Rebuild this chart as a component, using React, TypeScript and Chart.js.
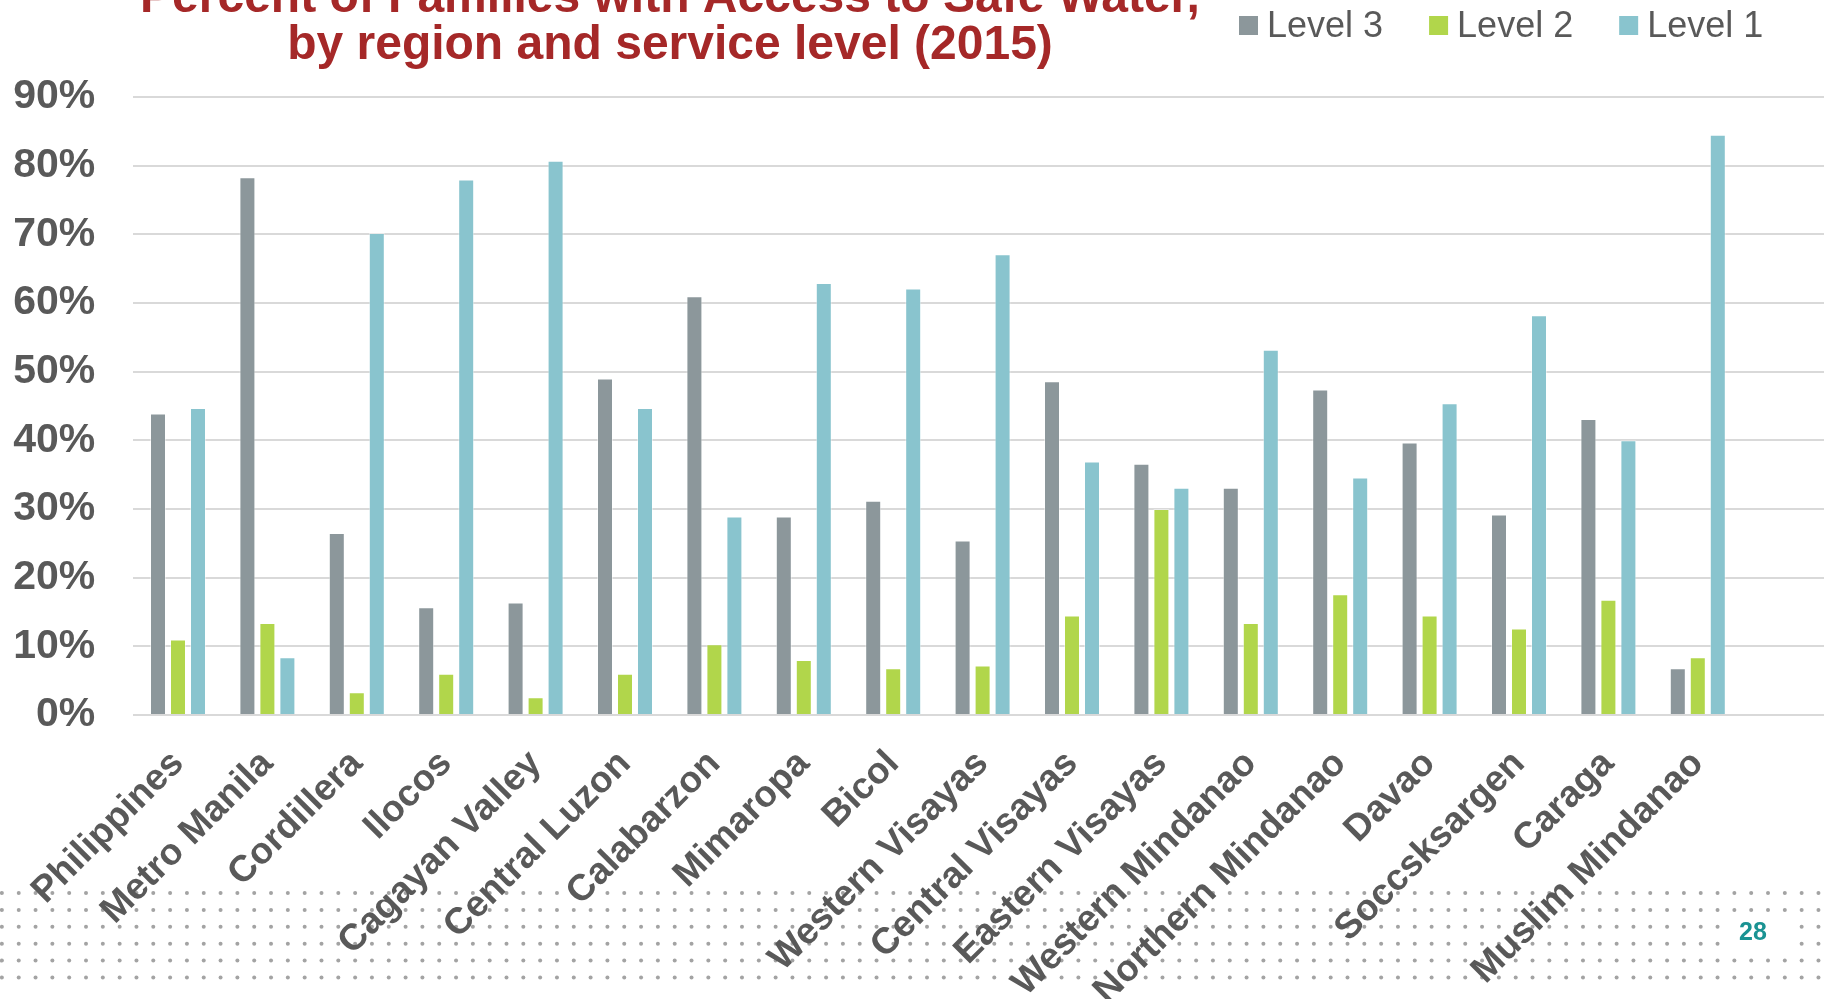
import React, { useEffect, useRef } from "react";
import { Chart, registerables } from "chart.js";

Chart.register(...registerables);

const FONT = "'Liberation Sans', Arial, Helvetica, sans-serif";

const regions = [
  "Philippines",
  "Metro Manila",
  "Cordillera",
  "Ilocos",
  "Cagayan Valley",
  "Central Luzon",
  "Calabarzon",
  "Mimaropa",
  "Bicol",
  "Western Visayas",
  "Central Visayas",
  "Eastern Visayas",
  "Western Mindanao",
  "Northern Mindanao",
  "Davao",
  "Soccsksargen",
  "Caraga",
  "Muslim Mindanao",
];

const level3 = [43.9, 78.3, 26.5, 15.7, 16.4, 49.0, 61.0, 28.9, 31.2, 25.4, 48.6, 36.6, 33.1, 47.4, 39.7, 29.2, 43.1, 6.8];
const level2 = [11.0, 13.4, 3.3, 6.0, 2.6, 6.0, 10.3, 8.0, 6.8, 7.2, 14.5, 30.0, 13.4, 17.6, 14.5, 12.6, 16.8, 8.4];
const level1 = [44.7, 8.4, 70.2, 78.0, 80.7, 44.7, 28.9, 62.9, 62.1, 67.1, 36.9, 33.1, 53.2, 34.6, 45.4, 58.2, 40.0, 84.5];

const seriesNames = ["Level 3", "Level 2", "Level 1"];
const seriesColors = ["#8C979B", "#B1D64B", "#89C4CE"];

const yMin = 0;
const yMax = 90;
const yStep = 10;

const titleLines = ["Percent of Families with Access to Safe Water,", "by region and service level (2015)"];
const pageNumber = "28";

const W = 1824;
const H = 999;

const decorPlugin = {
  id: "decor",
  beforeDraw(chart: any) {
    const ctx = chart.ctx;
    ctx.save();
    ctx.fillStyle = "#ffffff";
    ctx.fillRect(0, 0, W, H);
    // dotted band at the bottom
    ctx.fillStyle = "#a3a3a3";
    for (let r = 0; r < 6; r++) {
      const cy = 893 + r * 16.9;
      for (let cx = 1.9; cx < W + 3; cx += 16.82) {
        ctx.beginPath();
        ctx.arc(cx, cy, 2, 0, Math.PI * 2);
        ctx.fill();
      }
    }
    // page number box
    ctx.fillStyle = "#ffffff";
    ctx.fillRect(1726, 919, 68, 34);
    ctx.fillStyle = "#1A9393";
    ctx.font = `bold 25px ${FONT}`;
    ctx.textAlign = "center";
    ctx.textBaseline = "middle";
    ctx.fillText(pageNumber, 1753, 933);
    ctx.restore();
  },
  afterDraw(chart: any) {
    const ctx = chart.ctx;
    const area = chart.chartArea;
    const y = chart.scales.y;
    ctx.save();
    // extend horizontal gridlines to the right edge
    ctx.strokeStyle = "#d9d9d9";
    ctx.lineWidth = 2;
    y.ticks.forEach((_t: any, i: number) => {
      const py = Math.round(y.getPixelForTick(i));
      ctx.beginPath();
      ctx.moveTo(area.right - 1, py);
      ctx.lineTo(W, py);
      ctx.stroke();
    });
    // title
    ctx.fillStyle = "#A52828";
    ctx.font = `bold 48px ${FONT}`;
    ctx.textAlign = "center";
    ctx.textBaseline = "alphabetic";
    ctx.fillText(titleLines[0], 670, 12);
    ctx.fillText(titleLines[1], 670, 59);
    // legend
    ctx.font = `36px ${FONT}`;
    ctx.textAlign = "left";
    ctx.textBaseline = "middle";
    let x = 1239;
    chart.data.datasets.forEach((ds: any) => {
      ctx.fillStyle = ds.backgroundColor;
      ctx.fillRect(x, 16, 19, 19);
      ctx.fillStyle = "#595959";
      ctx.fillText(ds.label, x + 28, 27);
      x += 28 + ctx.measureText(ds.label).width + 46;
    });
    ctx.restore();
  },
};

export default function App() {
  const ref = useRef<HTMLCanvasElement | null>(null);

  useEffect(() => {
    if (!ref.current) return;
    const values = [level3, level2, level1];
    const chart = new Chart(ref.current, {
      type: "bar",
      data: {
        labels: regions,
        datasets: values.map((v, i) => ({
          label: seriesNames[i],
          data: v,
          backgroundColor: seriesColors[i],
          borderColor: "rgba(255,255,255,0.45)",
          borderWidth: 1,
          categoryPercentage: 0.671,
          barPercentage: 0.8,
        })),
      },
      options: {
        responsive: false,
        animation: false,
        layout: { padding: { top: 97, right: 81.5, left: 0, bottom: 0 } },
        plugins: {
          legend: { display: false },
          title: { display: false },
          tooltip: { enabled: false },
        },
        scales: {
          x: {
            grid: { display: false, drawTicks: false },
            border: { display: false },
            ticks: {
              autoSkip: false,
              minRotation: 45,
              maxRotation: 45,
              padding: 27,
              labelOffset: 0,
              color: "#595959",
              font: { family: FONT, size: 37, weight: "bold" },
            },
            afterFit: (s: any) => {
              s.height = 284;
            },
          },
          y: {
            min: yMin,
            max: yMax,
            ticks: {
              stepSize: yStep,
              padding: 38,
              color: "#595959",
              font: { family: FONT, size: 41, weight: "bold" },
              callback: (v: any) => `${v}%`,
            },
            grid: { color: "#d9d9d9", lineWidth: 2, drawTicks: false },
            border: { display: false },
            afterFit: (s: any) => {
              s.width = 133.3;
            },
          },
        },
      } as any,
      plugins: [decorPlugin],
    });
    return () => chart.destroy();
  }, []);

  return (
    <div style={{ position: "absolute", left: 0, top: 0, width: W, height: H, background: "#fff" }}>
      <canvas ref={ref} width={W} height={H} style={{ display: "block", width: W, height: H }} />
    </div>
  );
}
